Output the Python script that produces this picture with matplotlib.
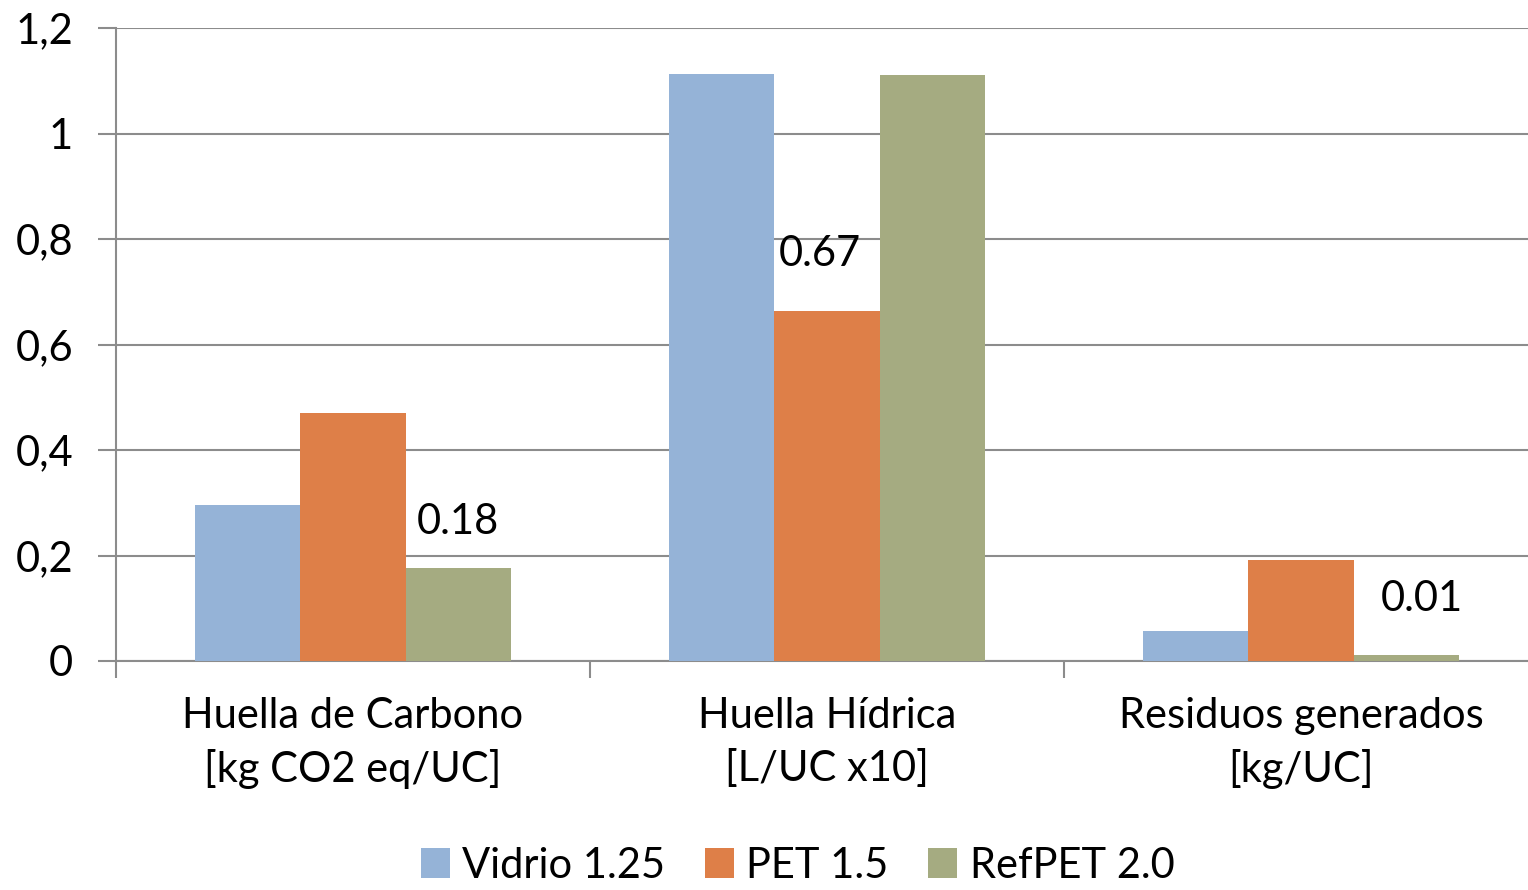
import matplotlib.pyplot as plt
import numpy as np

categorias = ['Huella de Carbono\n[kg CO2 eq/UC]', 'Huella Hídrica\n[L/UC x10]', 'Residuos generados\n[kg/UC]']
series = ['Vidrio 1.25', 'PET 1.5', 'RefPET 2.0']
vidrio = [0.295, 1.112, 0.057]
pet = [0.470, 0.664, 0.191]
refpet = [0.177, 1.110, 0.011]
colores = ['#95B3D7', '#DE7F48', '#A5AB81']
yticks = [0, 0.2, 0.4, 0.6, 0.8, 1.0, 1.2]
ytick_labels = ['0', '0,2', '0,4', '0,6', '0,8', '1', '1,2']
# etiquetas de datos: (serie, categoria, texto)
etiquetas = [(2, 0, '0.18'), (1, 1, '0.67'), (2, 2, '0.01')]

plt.rcParams['font.family'] = ['Lato', 'DejaVu Sans']

fig = plt.figure(figsize=(15.28, 8.9), dpi=100)
ax = fig.add_axes([116 / 1528, 229 / 890, 1422 / 1528, 633 / 890])

x = np.arange(len(categorias))
w = 0.222
datos = [vidrio, pet, refpet]
for i, (vals, c, nombre) in enumerate(zip(datos, colores, series)):
    ax.bar(x + (i - 1) * w, vals, width=w, color=c, label=nombre, zorder=3)

offsets = {(2, 0): (0, 46), (1, 1): (-7, 57), (2, 2): (16, 56)}
for s, c, txt in etiquetas:
    dx, dy = offsets[(s, c)]
    ax.annotate(txt, (x[c] + (s - 1) * w, datos[s][c]), xytext=(dx, dy),
                textcoords='offset pixels', ha='center', va='center', fontsize=30, zorder=4)

ax.set_xlim(-0.5, 2.5)
ax.set_ylim(0, 1.2)
ax.set_yticks(yticks)
ax.set_yticklabels(ytick_labels, fontsize=30)
ax.yaxis.grid(True, color='#8c8c8c', linewidth=1.5, zorder=0)
ax.tick_params(axis='y', length=13, width=1.5, color='#8c8c8c', pad=18)

ax.set_xticks(x)
ax.set_xticklabels(categorias, fontsize=30, linespacing=1.42)
ax.set_xticks([-0.5, 0.5, 1.5, 2.5], minor=True)
ax.tick_params(axis='x', which='major', length=0, pad=26)
ax.tick_params(axis='x', which='minor', length=12, width=1.5, color='#8c8c8c')

for lado in ['top', 'right']:
    ax.spines[lado].set_visible(False)
for lado in ['left', 'bottom']:
    ax.spines[lado].set_color('#8c8c8c')
    ax.spines[lado].set_linewidth(1.5)

fig.legend(loc='lower center', bbox_to_anchor=(0.522, -0.036), ncol=3, frameon=False,
           fontsize=30, handlelength=0.7, handleheight=0.7, handletextpad=0.3,
           columnspacing=0.95)

fig.savefig('out.png', dpi=100)
